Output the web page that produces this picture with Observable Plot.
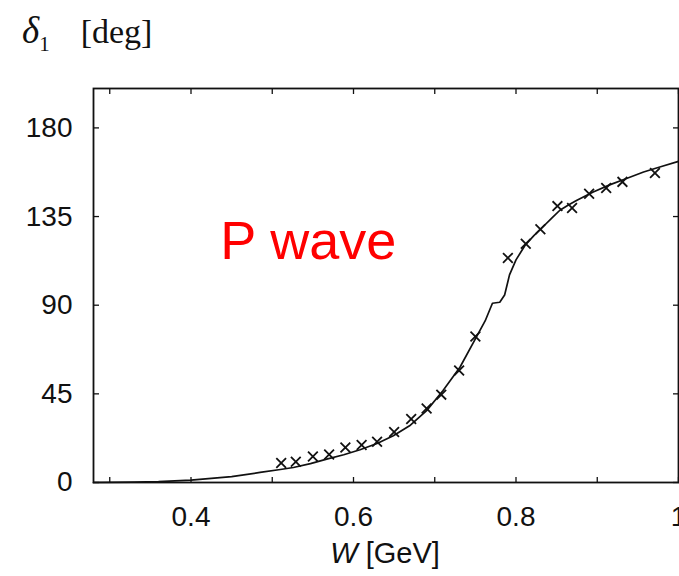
<!DOCTYPE html>
<html>
<head>
<meta charset="utf-8">
<script src="https://cdn.jsdelivr.net/npm/d3@7"></script>
<script src="https://cdn.jsdelivr.net/npm/@observablehq/plot@0.6"></script>
<style>
  html, body { margin: 0; padding: 0; background: #fff; }
  body { width: 679px; height: 576px; overflow: hidden; position: relative; }
  #title { position: absolute; left: 22px; top: 14px; font-family: "Liberation Serif", "DejaVu Serif", serif; font-size: 34px; line-height: 34px; color: #111; white-space: nowrap; }
  #title .delta { font-size: 37px; }
  #title .unit { margin-left: 31px; }
  #chart { position: absolute; left: 0; top: 60px; }
  #xlabel { position: absolute; left: 0; top: 535px; width: 770px; text-align: center; font-family: "Liberation Sans", Arial, sans-serif; font-size: 29px; line-height: 36px; color: #111; }
</style>
</head>
<body>
<div id="title"><i class="delta">δ</i><sub style="font-size:21px">1</sub><span class="unit">[deg]</span></div>
<div id="chart"></div>
<div id="xlabel"><i>W</i> [GeV]</div>
<script>
// Theory curve (P-wave phase shift)
const curveW = [0.28, 0.33, 0.36, 0.40, 0.45, 0.485, 0.51, 0.526, 0.547, 0.567, 0.588, 0.608, 0.629, 0.649, 0.669, 0.690, 0.710, 0.731, 0.751, 0.762, 0.771, 0.780, 0.786, 0.792, 0.800, 0.811, 0.822, 0.833, 0.844, 0.854, 0.865, 0.875, 0.895, 0.916, 0.936, 0.957, 0.978, 1.0];
const curveD = [0.0, 0.2, 0.4, 1.2, 3.0, 5.1, 6.6, 7.6, 9.6, 11.9, 14.1, 16.6, 19.8, 23.7, 28.8, 36.5, 46.6, 58.5, 73.7, 82.0, 91.0, 91.5, 95.2, 105.4, 113.0, 120.3, 125.3, 129.7, 134.2, 138.2, 141.0, 143.3, 147.5, 151.2, 154.3, 157.6, 160.3, 163.0];

// Experimental points
const ptsW = [0.511, 0.529, 0.550, 0.570, 0.590, 0.610, 0.629, 0.650, 0.671, 0.690, 0.708, 0.730, 0.750, 0.790, 0.812, 0.830, 0.851, 0.869, 0.890, 0.911, 0.931, 0.971];
const ptsD = [9.9, 10.5, 13.2, 14.2, 17.8, 19.0, 20.7, 25.6, 32.2, 37.6, 44.6, 56.8, 74.1, 114.0, 121.2, 128.5, 140.3, 139.3, 146.6, 149.5, 152.6, 157.1];

// Axis ticks
const yTicks = [0, 45, 90, 135, 180];
const xLabelTicks = [0.4, 0.6, 0.8, 1.0];
const xTicks = [0.3, 0.4, 0.5, 0.6, 0.7, 0.8, 0.9, 1.0];

// Annotation
const noteText = ["P wave"];
const noteW = [0.436];
const noteD = [122.4];

const curve = curveW.map((w, i) => ({W: w, d: curveD[i]}));
const points = ptsW.map((w, i) => ({W: w, d: ptsD[i]}));
const notes = noteText.map((t, i) => ({t, W: noteW[i], d: noteD[i]}));

const plot = Plot.plot({
  width: 679,
  height: 480,
  marginTop: 28,
  marginBottom: 58,
  marginLeft: 93,
  marginRight: 1,
  x: {domain: [0.28, 1.0]},
  y: {domain: [0, 200]},
  style: {fontFamily: "'Liberation Sans', Arial, sans-serif", fontSize: "28px", color: "#111", background: "#fff", overflow: "visible"},
  marks: [
    Plot.axisY(yTicks, {anchor: "left", tickSize: 0, tickPadding: 21, fontSize: 28, label: null}),
    Plot.axisY(yTicks, {anchor: "left", tickSize: -6, tickFormat: () => "", label: null, strokeWidth: 1.3}),
    Plot.axisY(yTicks, {anchor: "right", tickSize: -6, tickFormat: () => "", label: null, strokeWidth: 1.3}),
    Plot.axisX(xLabelTicks, {anchor: "bottom", tickSize: 0, tickPadding: 24, fontSize: 28, label: null, tickFormat: d => d === 1 ? "1" : d.toFixed(1)}),
    Plot.axisX(xTicks, {anchor: "bottom", tickSize: -5, tickFormat: () => "", label: null, strokeWidth: 1.3}),
    Plot.axisX(xTicks, {anchor: "top", tickSize: -5, tickFormat: () => "", label: null, strokeWidth: 1.3}),
    Plot.frame({stroke: "#111", strokeWidth: 1.8}),
    Plot.line(curve, {x: "W", y: "d", stroke: "#111", strokeWidth: 1.7, curve: "linear", strokeLinejoin: "round"}),
    Plot.dot(points, {x: "W", y: "d", symbol: "times", r: 4.5, stroke: "#111", strokeWidth: 1.8}),
    Plot.text(notes, {x: "W", y: "d", text: "t", fill: "#ff0000", fontSize: 54, textAnchor: "start", fontFamily: "'Liberation Sans', Arial, sans-serif"})
  ]
});
document.getElementById("chart").appendChild(plot);
</script>
</body>
</html>
